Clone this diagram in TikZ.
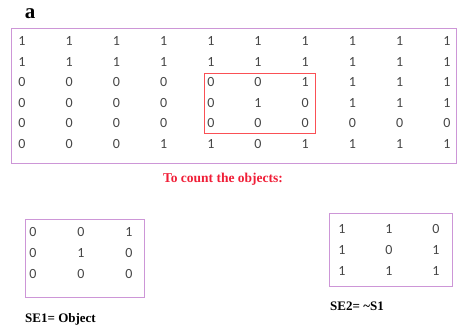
\documentclass[tikz,border=0pt]{standalone}
\usepackage{fontspec}
\setmainfont{Liberation Serif}
\newfontfamily\digitfont{Carlito}
\definecolor{boxpurple}{RGB}{205,150,215}
\definecolor{boxred}{RGB}{250,80,85}
\definecolor{txtred}{RGB}{240,30,55}
\definecolor{digitgray}{RGB}{70,70,70}
\tikzset{
  bit/.style={font=\digitfont\fontsize{14}{14}\selectfont,text=digitgray,inner sep=0pt},
  frame/.style={draw=boxpurple,line width=1pt},
  caption/.style={font=\bfseries\fontsize{13}{13}\selectfont,inner sep=0pt,anchor=west}
}
\begin{document}
\begin{tikzpicture}[x=1pt,y=-1pt]
\useasboundingbox (0,0) rectangle (457,331);

\node[font=\bfseries\fontsize{21}{21}\selectfont,inner sep=0pt] (lbl) at (30,14) {a};

%image matrix, 6 rows x 10 columns
\draw[frame] (11,29) rectangle (456,163);
\foreach \vals [count=\r] in {{1,1,1,1,1,1,1,1,1,1},{1,1,1,1,1,1,1,1,1,1},
    {0,0,0,0,0,0,1,1,1,1},{0,0,0,0,0,1,0,1,1,1},
    {0,0,0,0,0,0,0,0,0,0},{0,0,0,1,1,0,1,1,1,1}}
  \foreach \v [count=\c] in \vals
    \node[bit] (m-\r-\c) at ({22+47.2*(\c-1)},{41+20.6*(\r-1)}) {\v};

%window that holds the object
\draw[boxred,line width=0.9pt] (204,73) rectangle (315,133);

\node[font=\bfseries\fontsize{13.5}{13.5}\selectfont,text=txtred,inner sep=0pt] (count) at (223,179) {To count the objects:};

%SE1
\draw[frame] (25,219) rectangle (144,297);
\foreach \vals [count=\r] in {{0,0,1},{0,1,0},{0,0,0}}
  \foreach \v [count=\c] in \vals
    \node[bit] (a-\r-\c) at ({33+48*(\c-1)},{232+21*(\r-1)}) {\v};
\node[caption] (se1) at (25,319) {SE1= Object};

%SE2
\draw[frame] (329,213) rectangle (452,286);
\foreach \vals [count=\r] in {{1,1,0},{1,0,1},{1,1,1}}
  \foreach \v [count=\c] in \vals
    \node[bit] (b-\r-\c) at ({342+47*(\c-1)},{229+21*(\r-1)}) {\v};
\node[caption] (se2) at (330,306) {SE2= \textasciitilde S1};

\end{tikzpicture}
\end{document}
